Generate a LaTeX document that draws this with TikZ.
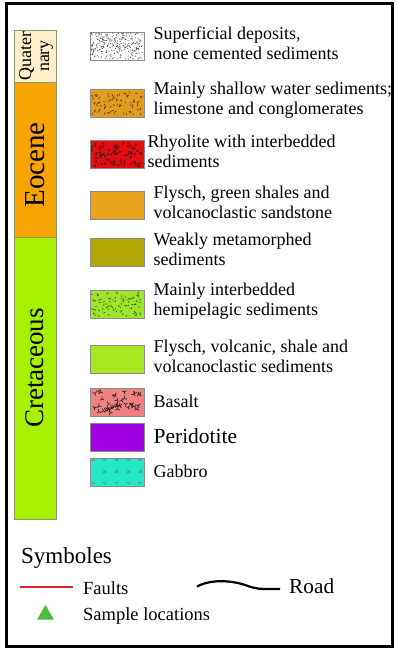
\documentclass[tikz,border=0pt]{standalone}
\usepackage{fontspec}
\setmainfont{Liberation Serif}
\usepackage{xcolor}
\usetikzlibrary{positioning, shapes.geometric}
\definecolor{quatfill}{HTML}{FFEFC8}
\definecolor{eocfill}{HTML}{F7A400}
\definecolor{cretfill}{HTML}{A6F000}
\definecolor{shallowfill}{HTML}{E39B1E}
\definecolor{rhyofill}{HTML}{EA0A10}
\definecolor{flyschfill}{HTML}{E9A21C}
\definecolor{metafill}{HTML}{B4A600}
\definecolor{hemifill}{HTML}{A2E22A}
\definecolor{volcfill}{HTML}{A8E81E}
\definecolor{basaltfill}{HTML}{F28080}
\definecolor{peridfill}{HTML}{A200E4}
\definecolor{gabbrofill}{HTML}{22EAC6}
\definecolor{faultred}{HTML}{D02828}
\definecolor{triangreen}{HTML}{48BE38}
\definecolor{bandline}{HTML}{8C9A6A}

\begin{document}
\begin{tikzpicture}[
    x=1pt, y=-1pt,
    swatch/.style={rectangle, draw=black!45, line width=0.8pt, minimum width=54pt, minimum height=28pt, inner sep=0pt},
    legtext/.style={align=left, inner sep=0pt, font=\fontsize{18}{20}\selectfont, yshift=3pt},
    symtext/.style={anchor=west, inner sep=0pt, font=\fontsize{18.5}{19}\selectfont},
    era/.style={rotate=90, inner sep=0pt},
    band/.style={draw=bandline, line width=0.9pt}
]
\useasboundingbox (0,0) rectangle (397,648);
\fill[white] (0,0) rectangle (397,648);

\draw[band, fill=quatfill] (14,30) rectangle (56,82);
\draw[band, fill=eocfill]  (14,82) rectangle (56,237);
\draw[band, fill=cretfill] (14,237) rectangle (56,519);
\node[era, align=center, font=\fontsize{18}{18}\selectfont] (quat) at (36,56) {Quater\\nary};
\node[era, font=\fontsize{29}{29}\selectfont] (eocene) at (35,165) {Eocene};
\node[era, font=\fontsize{27}{27}\selectfont] (cret) at (35,368) {Cretaceous};

\node[swatch, fill=white]       (depos)   at (117,46.5)  {};
\node[swatch, fill=shallowfill] (shallow) at (117,103.5) {};
\node[swatch, fill=rhyofill]    (rhyo)    at (117,154.5) {};
\node[swatch, fill=flyschfill]  (flysch)  at (117,205)   {};
\node[swatch, fill=metafill]    (meta)    at (117,252.5) {};
\node[swatch, fill=hemifill]    (hemi)    at (117,304.5) {};
\node[swatch, fill=volcfill]    (volc)    at (117,359)   {};
\node[swatch, fill=basaltfill]  (basalt)  at (117,402.5) {};
\node[swatch, fill=peridfill]   (perid)   at (117,437)   {};
\node[swatch, fill=gabbrofill]  (gabbro)  at (117,472)   {};

\pgfmathsetseed{11}
\begin{scope}[shift={(depos.north west)}]
  \foreach \i in {1,...,260} \fill[black!75] ({1+rnd*52},{1+rnd*26}) circle (0.55);
\end{scope}
\begin{scope}[shift={(shallow.north west)}, line width=0.7pt]
  \foreach \i in {1,...,80} \draw[black!55!brown] ({2+rnd*50},{2+rnd*24}) -- ++({rnd*360}:1.8);
\end{scope}
\begin{scope}[shift={(rhyo.north west)}, line width=0.7pt]
  \foreach \i in {1,...,75} {
    \pgfmathsetmacro\px{2+rnd*50}
    \pgfmathsetmacro\py{2+rnd*24}
    \pgfmathsetmacro\pa{rnd*360}
    \draw[black!85] (\px,\py) -- ++(\pa:2) (\px,\py) -- ++(\pa+70:2);
  }
\end{scope}
\begin{scope}[shift={(hemi.north west)}, line width=0.7pt]
  \foreach \i in {1,...,90} \draw[black!55!green] ({2+rnd*50},{2+rnd*24}) -- ++({rnd*360}:1.5);
\end{scope}
\begin{scope}[shift={(basalt.north west)}, line width=0.7pt]
  \foreach \i in {1,...,40} {
    \pgfmathsetmacro\px{3+rnd*48}
    \pgfmathsetmacro\py{3+rnd*22}
    \pgfmathsetmacro\pa{rnd*360}
    \draw[black!85] (\px,\py) -- ++(\pa:2.4) (\px,\py) -- ++(\pa+120:2.4) (\px,\py) -- ++(\pa+240:2.4);
  }
\end{scope}
\begin{scope}[shift={(gabbro.north west)}, line width=0.6pt, black!55]
  \foreach \u in {15,27,39,51} \draw (\u-1.5,12.5) -- (\u+1.5,15.5) (\u-1.5,15.5) -- (\u+1.5,12.5);
  \foreach \u in {4,15,27,39,50} \draw (\u-1.5,3.4) -- (\u,1.6) -- (\u+1.5,3.4);
  \foreach \u in {4,15,27,39,50} \draw (\u-1.5,24.4) -- (\u,26.2) -- (\u+1.5,24.4);
\end{scope}

\node[legtext, right=9pt of depos]   (deposlab)   {Superficial deposits,\\none cemented sediments};
\node[legtext, right=9pt of shallow] (shallowlab) {Mainly shallow water sediments;\\limestone and conglomerates};
\node[legtext, right=3pt of rhyo]    (rhyolab)    {Rhyolite with interbedded\\sediments};
\node[legtext, right=9pt of flysch]  (flyschlab)  {Flysch, green shales and\\volcanoclastic sandstone};
\node[legtext, right=9pt of meta]    (metalab)    {Weakly metamorphed\\sediments};
\node[legtext, right=9pt of hemi]    (hemilab)    {Mainly interbedded\\hemipelagic sediments};
\node[legtext, right=9pt of volc]    (volclab)    {Flysch, volcanic, shale and\\volcanoclastic sediments};
\node[legtext, right=9pt of basalt, yshift=-2pt] (basaltlab) {Basalt};
\node[legtext, right=9pt of perid, yshift=-2pt, font=\fontsize{21.5}{22}\selectfont] (peridlab) {Peridotite};
\node[legtext, right=9pt of gabbro, yshift=-2pt] (gabbrolab) {Gabbro};

\node[symtext, font=\fontsize{23}{23}\selectfont] (symb) at (21,558) {Symboles};
\coordinate (faultA) at (20,587);
\coordinate (faultB) at (73,587);
\draw[faultred, line width=2pt] (faultA) -- (faultB);
\node[symtext] (faultlab) at (83,588) {Faults};
\coordinate (roadA) at (197,586.5);
\coordinate (roadB) at (280,589);
\draw[line width=2.2pt] (roadA) .. controls (211,579) and (232,580) .. (248,586) .. controls (256,589) and (262,589) .. (268,589) -- (roadB);
\node[symtext, font=\fontsize{21.3}{22}\selectfont] (roadlab) at (289,586) {Road};
\node[regular polygon, regular polygon sides=3, fill=triangreen, inner sep=0pt, minimum size=19.6pt] (sample) at (45.5,614.8) {};
\node[symtext] (samplelab) at (83,616) {Sample locations};

\draw[line width=3pt] (6.5,3.5) rectangle (392.5,646);
\end{tikzpicture}
\end{document}
